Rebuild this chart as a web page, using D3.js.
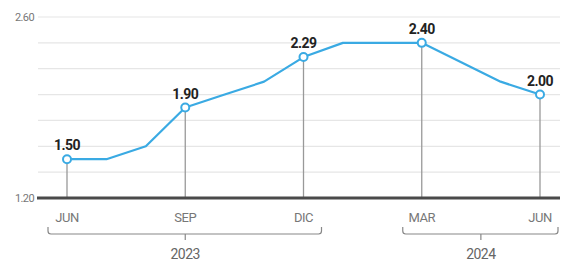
<!DOCTYPE html>
<html><head><meta charset="utf-8">
<script src="https://cdn.jsdelivr.net/npm/d3@7"></script>
<style>
html,body{margin:0;padding:0;background:#fff;}
svg{display:block;}
text{font-family:"Roboto","Liberation Sans",sans-serif;}
</style></head>
<body>
<script>
const months = ["JUN","JUL","AGO","SEP","OCT","NOV","DIC","ENE","FEB","MAR","ABR","MAY","JUN"];
const values = [1.50,1.50,1.60,1.90,2.00,2.10,2.29,2.40,2.40,2.40,2.25,2.10,2.00];
const labeledIdx = [0,3,6,9,12];
const yTicks = [1.2,1.4,1.6,1.8,2.0,2.2,2.4,2.6];
const yTickLabels = ["1.20","2.60"];
const years = [{label:"2023", from:0, to:6}, {label:"2024", from:9, to:12}];

const W=563,H=266;
const svg=d3.select("body").append("svg").attr("width",W).attr("height",H);
const x=d3.scaleLinear().domain([0,12]).range([67,540]);
const y=d3.scaleLinear().domain([1.2,2.6]).range([198,17]);

// gridlines
svg.append("g").selectAll("line").data(yTicks.slice(1)).join("line")
  .attr("x1",38).attr("x2",560).attr("y1",d=>y(d)).attr("y2",d=>y(d))
  .attr("stroke","#e6e6e6").attr("stroke-width",1.2);

// y labels
svg.append("g").selectAll("text").data(yTickLabels).join("text")
  .attr("x",34).attr("y",d=>y(+d)).attr("dy","0.35em").attr("text-anchor","end")
  .attr("font-size",11).attr("fill","#777").attr("letter-spacing","-0.6")
  .text(d=>d);

// drop lines
svg.append("g").selectAll("line").data(labeledIdx).join("line")
  .attr("x1",i=>x(i)).attr("x2",i=>x(i)).attr("y1",i=>y(values[i])).attr("y2",y(1.2))
  .attr("stroke","#999").attr("stroke-width",1.3);

// baseline
svg.append("line").attr("x1",37).attr("x2",560).attr("y1",y(1.2)).attr("y2",y(1.2))
  .attr("stroke","#4a4a4a").attr("stroke-width",3);

// line
const line=d3.line().x((d,i)=>x(i)).y(d=>y(d)).curve(d3.curveLinear);
svg.append("path").datum(values).attr("d",line).attr("fill","none")
  .attr("stroke","#3aaae3").attr("stroke-width",2.2).attr("stroke-linejoin","round");

// markers
svg.append("g").selectAll("circle").data(labeledIdx).join("circle")
  .attr("cx",i=>x(i)).attr("cy",i=>y(values[i])).attr("r",4)
  .attr("fill","#fff").attr("stroke","#3aaae3").attr("stroke-width",2);

// value labels
svg.append("g").selectAll("text").data(labeledIdx).join("text")
  .attr("x",i=>x(i)).attr("y",i=>y(values[i])-9).attr("text-anchor","middle")
  .attr("font-size",14).attr("font-weight","bold").attr("fill","#222").attr("letter-spacing","-0.5")
  .text(i=>values[i].toFixed(2));

// month labels
svg.append("g").selectAll("text").data(labeledIdx).join("text")
  .attr("x",i=>x(i)).attr("y",222).attr("text-anchor","middle")
  .attr("font-size",13).attr("fill","#777").attr("letter-spacing","-0.5")
  .text(i=>months[i]);

// year brackets
years.forEach(yr=>{
  const x0 = x(yr.from) - 19, x1 = x(yr.to) + 18;
  const cx = (x(yr.from)+x(yr.to))/2;
  const top=227, bot=234, r=3;
  const p=d3.path();
  p.moveTo(x0,top); p.lineTo(x0,bot-r); p.quadraticCurveTo(x0,bot,x0+r,bot);
  p.lineTo(x1-r,bot); p.quadraticCurveTo(x1,bot,x1,bot-r); p.lineTo(x1,top);
  p.moveTo(cx,bot); p.lineTo(cx,240);
  svg.append("path").attr("d",p.toString()).attr("fill","none").attr("stroke","#888").attr("stroke-width",1.2);
  svg.append("text").attr("x",cx).attr("y",259).attr("text-anchor","middle")
    .attr("font-size",14).attr("fill","#666").attr("letter-spacing","-0.5").text(yr.label);
});
</script>
</body></html>
